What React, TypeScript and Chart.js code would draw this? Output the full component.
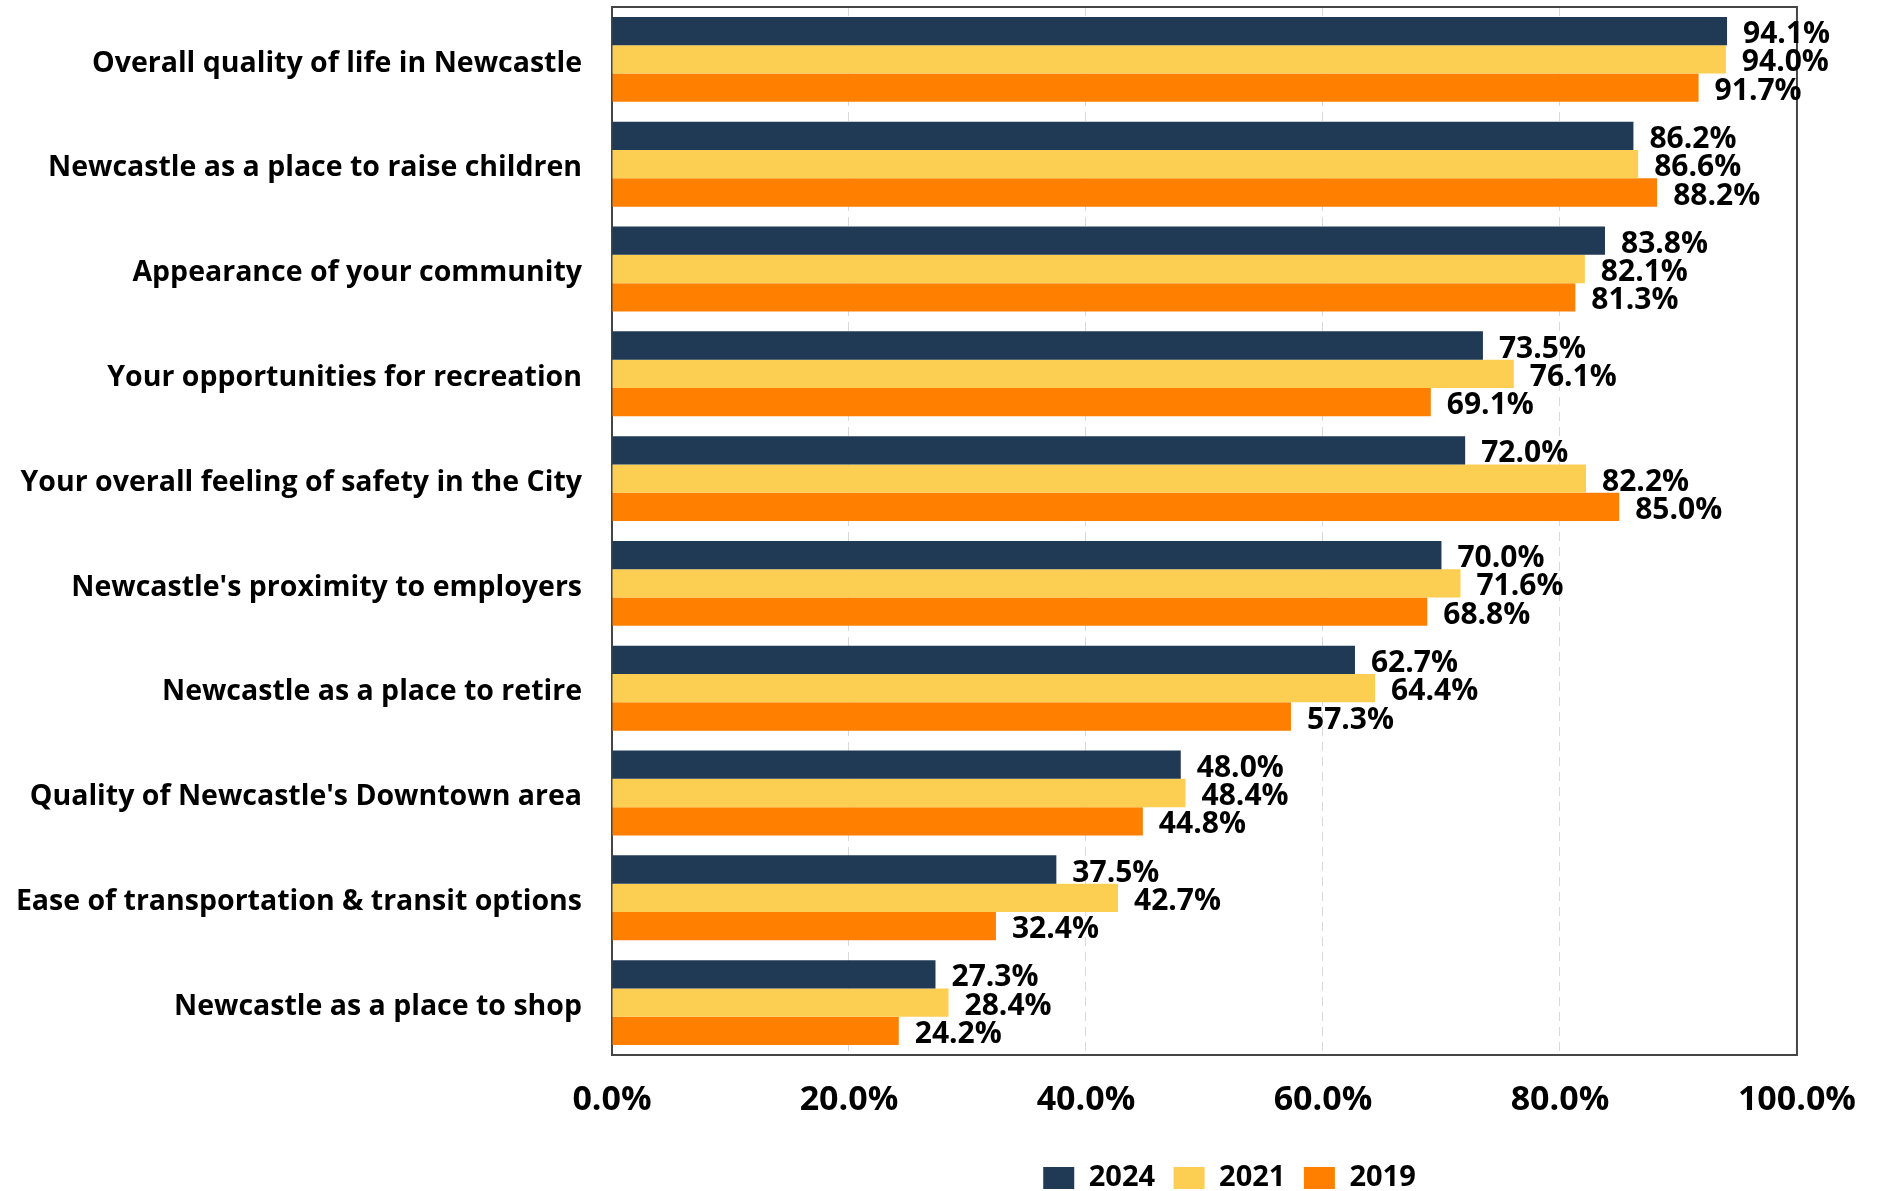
import React, { useEffect, useRef } from "react";
import { Chart, registerables } from "chart.js";

Chart.register(...registerables);

const categories = [
  "Overall quality of life in Newcastle",
  "Newcastle as a place to raise children",
  "Appearance of your community",
  "Your opportunities for recreation",
  "Your overall feeling of safety in the City",
  "Newcastle's proximity to employers",
  "Newcastle as a place to retire",
  "Quality of Newcastle's Downtown area",
  "Ease of transportation & transit options",
  "Newcastle as a place to shop",
];

const values2024 = [94.1, 86.2, 83.8, 73.5, 72.0, 70.0, 62.7, 48.0, 37.5, 27.3];
const values2021 = [94.0, 86.6, 82.1, 76.1, 82.2, 71.6, 64.4, 48.4, 42.7, 28.4];
const values2019 = [91.7, 88.2, 81.3, 69.1, 85.0, 68.8, 57.3, 44.8, 32.4, 24.2];

const seriesLabels = ["2024", "2021", "2019"];
const seriesColors = ["#203A56", "#FCCE52", "#FF8000"];

const FONT = '"Open Sans", "Noto Sans", sans-serif';

const frameBox = {
  id: "frameBox",
  beforeDatasetsDraw(chart: any) {
    const { ctx, chartArea } = chart;
    ctx.save();
    ctx.strokeStyle = "#454545";
    ctx.lineWidth = 2;
    ctx.strokeRect(
      chartArea.left,
      chartArea.top,
      chartArea.right - chartArea.left,
      chartArea.bottom - chartArea.top
    );
    ctx.restore();
  },
};

const legendShift = {
  id: "legendShift",
  afterLayout(chart: any) {
    const lg = chart.legend;
    if (lg) {
      lg.left += 25;
      lg.right += 25;
      lg.top += 1;
      lg.bottom += 1;
    }
  },
};

const valueLabels = {
  id: "valueLabels",
  afterDatasetsDraw(chart: any) {
    const ctx = chart.ctx;
    ctx.save();
    ctx.font = `bold 30px ${FONT}`;
    ctx.fillStyle = "#000000";
    ctx.textAlign = "left";
    ctx.textBaseline = "middle";
    chart.data.datasets.forEach((ds: any, i: number) => {
      const meta = chart.getDatasetMeta(i);
      meta.data.forEach((el: any, j: number) => {
        const v = ds.data[j] as number;
        ctx.fillText(v.toFixed(1) + "%", el.x + 16, el.y + 3.5);
      });
    });
    ctx.restore();
  },
};

export default function App() {
  const canvasRef = useRef<HTMLCanvasElement | null>(null);

  useEffect(() => {
    document.body.style.margin = "0";
    document.body.style.overflow = "hidden";
    const canvas = canvasRef.current;
    if (!canvas) return;
    const allValues = [values2024, values2021, values2019];
    const chart = new Chart(canvas, {
      type: "bar",
      data: {
        labels: categories,
        datasets: allValues.map((vals, i) => ({
          label: seriesLabels[i],
          data: vals,
          backgroundColor: seriesColors[i],
          borderWidth: 0,
          categoryPercentage: 0.81,
          barPercentage: 1.0,
        })),
      },
      options: {
        indexAxis: "y",
        responsive: false,
        animation: false,
        devicePixelRatio: 1,
        layout: {
          padding: { top: 7, right: 83, bottom: -10.5, left: 0 },
        },
        scales: {
          x: {
            min: 0,
            max: 100,
            afterFit: (s: any) => {
              s.height = 89;
            },
            ticks: {
              stepSize: 20,
              padding: 25,
              color: "#000000",
              font: { family: FONT, size: 34, weight: "bold" },
              callback: (v: any) => Number(v).toFixed(1) + "%",
            },
            grid: {
              color: "#D9D9D9",
              lineWidth: 1,
              drawTicks: false,
            },
            border: { display: false, dash: [9, 6] },
          },
          y: {
            afterFit: (s: any) => {
              s.width = 612;
              s.paddingTop = 0;
              s.paddingBottom = 0;
            },
            ticks: {
              padding: 30,
              labelOffset: 4,
              color: "#000000",
              font: { family: FONT, size: 28.5, weight: "bold" },
            },
            grid: { display: false, drawTicks: false },
            border: { display: false },
          },
        },
        plugins: {
          legend: {
            position: "bottom",
            fullSize: false,
            labels: {
              boxWidth: 31,
              boxHeight: 22,
              padding: 18.5,
              color: "#000000",
              font: { family: FONT, size: 29, weight: "bold" },
            },
          },
          tooltip: { enabled: false },
        },
      },
      plugins: [frameBox, valueLabels, legendShift],
    });
    return () => chart.destroy();
  }, []);

  return (
    <div style={{ width: 1881, height: 1191, background: "#ffffff" }}>
      <canvas ref={canvasRef} width={1881} height={1191} />
    </div>
  );
}
